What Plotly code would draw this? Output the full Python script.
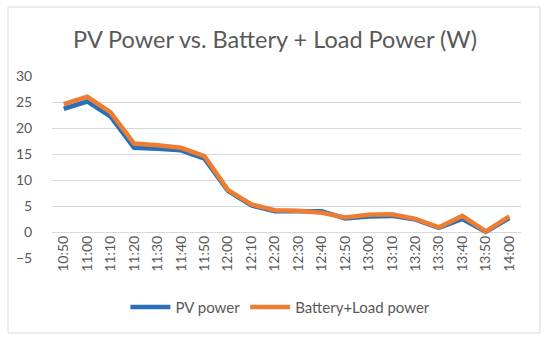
import plotly.graph_objects as go

times = ["10:50", "11:00", "11:10", "11:20", "11:30", "11:40", "11:50", "12:00", "12:10", "12:20",
         "12:30", "12:40", "12:50", "13:00", "13:10", "13:20", "13:30", "13:40", "13:50", "14:00"]
pv_power = [23.7, 25.1, 22.2, 16.2, 16.0, 15.7, 14.1, 7.9, 5.1, 4.0,
            4.0, 4.0, 2.6, 3.0, 3.1, 2.4, 0.8, 2.5, 0.0, 2.7]
battery_load_power = [24.6, 26.0, 23.0, 17.0, 16.7, 16.2, 14.6, 8.1, 5.3, 4.2,
                      4.1, 3.7, 2.8, 3.3, 3.4, 2.5, 0.9, 3.1, 0.1, 3.0]
y_ticks = [-5, 0, 5, 10, 15, 20, 25, 30]

grey = "#595959"
font_family = "Lato, 'Open Sans', sans-serif"

fig = go.Figure()
fig.add_trace(go.Scatter(x=times, y=pv_power, mode="lines", name="PV power",
                         line=dict(color="#2A6FB8", width=4.5)))
fig.add_trace(go.Scatter(x=times, y=battery_load_power, mode="lines", name="Battery+Load power",
                         line=dict(color="#ED7D31", width=4.5)))

fig.update_layout(
    width=550, height=342,
    margin=dict(l=52, r=29, t=76, b=84),
    paper_bgcolor="white", plot_bgcolor="white",
    font=dict(family=font_family, color=grey, size=14),
    title=dict(text="PV Power vs. Battery + Load Power (W)", x=0.5, xanchor="center",
               y=1 - 40 / 342, yanchor="middle",
               font=dict(family=font_family, size=23.5, color=grey)),
    showlegend=True,
    legend=dict(orientation="h", x=0.487, xanchor="center", y=-0.27, yanchor="middle",
                font=dict(size=15, color=grey), bgcolor="rgba(0,0,0,0)",
                itemwidth=40, tracegroupgap=0),
    shapes=[dict(type="rect", xref="paper", yref="paper",
                 x0=(8 - 52) / 469, x1=(540 - 52) / 469,
                 y0=(258 - 333) / 182, y1=(258 - 7) / 182,
                 line=dict(color="#D9D9D9", width=1), fillcolor="rgba(0,0,0,0)", layer="below")],
)

fig.update_xaxes(type="category", tickangle=-90, showgrid=False, showline=False,
                 anchor="free", position=5 / 35, ticks="", tickfont=dict(size=14, color=grey),
                 range=[-0.5, len(times) - 0.5])
fig.update_yaxes(range=[-5, 30], tickvals=y_ticks, showgrid=True, gridcolor="#D9D9D9", gridwidth=1,
                 zeroline=True, zerolinecolor="#D9D9D9", zerolinewidth=1,
                 showline=False, ticks="outside", ticklen=16, tickcolor="rgba(0,0,0,0)",
                 tickfont=dict(size=14, color=grey))

fig.write_html("out.html", config={"displayModeBar": False},
               post_script="document.body.style.margin='0';document.body.style.overflow='hidden';")
